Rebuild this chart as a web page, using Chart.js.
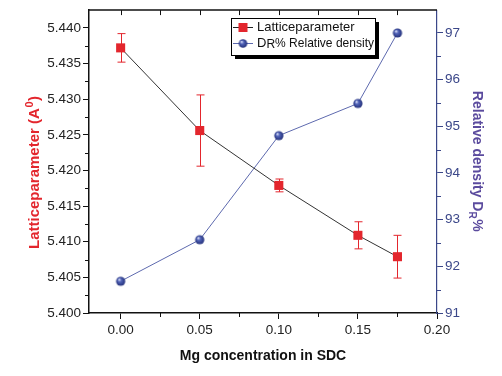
<!DOCTYPE html>
<html>
<head>
<meta charset="utf-8">
<script src="https://cdn.jsdelivr.net/npm/chart.js@4.4.0/dist/chart.umd.min.js"></script>
<style>
html, body { margin: 0; padding: 0; background: #fff; }
#wrap { width: 502px; height: 376px; }
</style>
</head>
<body>
<div id="wrap"><canvas id="chart"></canvas></div>
<script>
// values
const mgConc = [0.00, 0.05, 0.10, 0.15, 0.175];
const latticeParam = [5.4372, 5.4256, 5.4179, 5.4109, 5.4079];
const latticeErr = [0.0020, 0.0050, 0.0009, 0.0019, 0.0030];
const relDensity = [91.68, 92.57, 94.80, 95.49, 97.00];

const xTicks = [0.00, 0.05, 0.10, 0.15, 0.20];
const xMinor = [0.025, 0.075, 0.125, 0.175];
const leftTicks = [5.400, 5.405, 5.410, 5.415, 5.420, 5.425, 5.430, 5.435, 5.440];
const leftMinor = [5.4025, 5.4075, 5.4125, 5.4175, 5.4225, 5.4275, 5.4325, 5.4375];
const rightTicks = [91, 92, 93, 94, 95, 96, 97];
const rightMinor = [91.5, 92.5, 93.5, 94.5, 95.5, 96.5];

const RED = '#e3262d';
const BLUE_LINE = '#5d69ae';
const AXIS_BLUE = '#3b4789';
const PURPLE = '#5b4b9e';
const FONT = '"Liberation Sans", Arial, sans-serif';

function makeSphere(r) {
    const c = document.createElement('canvas');
    const s = Math.ceil(r * 2 + 2);
    c.width = c.height = s;
    const g = c.getContext('2d');
    const m = s / 2;
    const grad = g.createRadialGradient(m - r * 0.35, m - r * 0.4, 0.4, m, m, r);
    grad.addColorStop(0, '#d2d8f4');
    grad.addColorStop(0.35, '#5264b8');
    grad.addColorStop(1, '#23307a');
    g.fillStyle = grad;
    g.beginPath();
    g.arc(m, m, r, 0, Math.PI * 2);
    g.fill();
    return c;
}
const sphere = makeSphere(4.6);
const legendSphere = makeSphere(4.3);

// error bars under the markers
const errorBars = {
    id: 'errorBars',
    beforeDatasetsDraw(chart) {
        const ctx = chart.ctx;
        const x = chart.scales.x, y = chart.scales.yL;
        ctx.save();
        ctx.strokeStyle = RED;
        ctx.lineWidth = 1;
        mgConc.forEach((v, i) => {
            const px = Math.round(x.getPixelForValue(v)) + 0.5;
            const t = y.getPixelForValue(latticeParam[i] + latticeErr[i]);
            const b = y.getPixelForValue(latticeParam[i] - latticeErr[i]);
            ctx.beginPath();
            ctx.moveTo(px, t); ctx.lineTo(px, b);
            ctx.moveTo(px - 4, t); ctx.lineTo(px + 4, t);
            ctx.moveTo(px - 4, b); ctx.lineTo(px + 4, b);
            ctx.stroke();
        });
        ctx.restore();
    }
};

// frame, minor ticks, axis titles and legend
const decorations = {
    id: 'decorations',
    afterDraw(chart) {
        const ctx = chart.ctx;
        const a = chart.chartArea;
        const x = chart.scales.x, yL = chart.scales.yL, yR = chart.scales.yR;
        ctx.save();

        // top frame line with inward ticks
        ctx.strokeStyle = '#111';
        ctx.lineWidth = 1.5;
        ctx.beginPath();
        ctx.moveTo(a.left, a.top); ctx.lineTo(a.right, a.top);
        ctx.stroke();
        ctx.lineWidth = 1;
        ctx.beginPath();
        xTicks.concat(xMinor).forEach(v => {
            const px = Math.round(x.getPixelForValue(v)) + 0.5;
            if (px > a.right - 2) return;
            ctx.moveTo(px, a.top); ctx.lineTo(px, a.top + 5);
        });
        // bottom minor ticks
        xMinor.forEach(v => {
            const px = Math.round(x.getPixelForValue(v)) + 0.5;
            ctx.moveTo(px, a.bottom); ctx.lineTo(px, a.bottom + 4);
        });
        leftMinor.forEach(v => {
            const py = Math.round(yL.getPixelForValue(v)) + 0.5;
            ctx.moveTo(a.left, py); ctx.lineTo(a.left - 4, py);
        });
        ctx.stroke();
        ctx.strokeStyle = AXIS_BLUE;
        ctx.beginPath();
        rightMinor.forEach(v => {
            const py = Math.round(yR.getPixelForValue(v)) + 0.5;
            ctx.moveTo(a.right, py); ctx.lineTo(a.right + 4, py);
        });
        ctx.stroke();

        // x title
        ctx.fillStyle = '#111';
        ctx.font = 'bold 14px ' + FONT;
        ctx.textAlign = 'center';
        ctx.textBaseline = 'alphabetic';
        ctx.fillText('Mg concentration in SDC', (a.left + a.right) / 2, 360);

        // left title, reads upwards
        ctx.save();
        ctx.translate(39, 173);
        ctx.rotate(-Math.PI / 2);
        ctx.fillStyle = RED;
        const mainL = 'Latticeparameter (A';
        ctx.font = 'bold 15px ' + FONT;
        const w1 = ctx.measureText(mainL).width;
        ctx.font = 'bold 11px ' + FONT;
        const w2 = ctx.measureText('0').width;
        ctx.font = 'bold 15px ' + FONT;
        const w3 = ctx.measureText(')').width;
        let sx = -(w1 + w2 + w3) / 2;
        ctx.textAlign = 'left';
        ctx.fillText(mainL, sx, 0);
        ctx.font = 'bold 11px ' + FONT;
        ctx.fillText('0', sx + w1 + 0.5, -6);
        ctx.font = 'bold 15px ' + FONT;
        ctx.fillText(')', sx + w1 + w2 + 1, 0);
        ctx.restore();

        // right title, reads downwards
        ctx.save();
        ctx.translate(473, 161);
        ctx.rotate(Math.PI / 2);
        ctx.fillStyle = PURPLE;
        const mainR = 'Relative density D';
        ctx.font = 'bold 14px ' + FONT;
        const r1 = ctx.measureText(mainR).width;
        const r3 = ctx.measureText('%').width;
        ctx.font = 'bold 10px ' + FONT;
        const r2 = ctx.measureText('R').width;
        sx = -(r1 + r2 + r3) / 2;
        ctx.textAlign = 'left';
        ctx.font = 'bold 14px ' + FONT;
        ctx.fillText(mainR, sx, 0);
        ctx.font = 'bold 10px ' + FONT;
        ctx.fillText('R', sx + r1, 4);
        ctx.font = 'bold 14px ' + FONT;
        ctx.fillText('%', sx + r1 + r2 + 0.5, 0);
        ctx.restore();

        // legend box with shadow
        const lx = 231, ly = 18, lw = 144, lh = 37;
        ctx.fillStyle = '#000';
        ctx.fillRect(lx + 4, ly + 4, lw, lh);
        ctx.fillStyle = '#fff';
        ctx.fillRect(lx, ly, lw, lh);
        ctx.strokeStyle = '#000';
        ctx.lineWidth = 1;
        ctx.strokeRect(lx + 0.5, ly + 0.5, lw, lh);

        ctx.beginPath();
        ctx.strokeStyle = '#222';
        ctx.moveTo(233, 27.5); ctx.lineTo(253, 27.5);
        ctx.stroke();
        ctx.fillStyle = RED;
        ctx.fillRect(238.5, 23, 9, 9);
        ctx.beginPath();
        ctx.strokeStyle = BLUE_LINE;
        ctx.moveTo(233, 43.5); ctx.lineTo(253, 43.5);
        ctx.stroke();
        ctx.drawImage(legendSphere, 243 - legendSphere.width / 2, 43.5 - legendSphere.height / 2);

        ctx.fillStyle = '#111';
        ctx.textAlign = 'left';
        ctx.textBaseline = 'middle';
        ctx.font = '13px ' + FONT;
        ctx.fillText('Latticeparameter', 257, 27);
        ctx.fillText('D', 257, 43);
        const dw = ctx.measureText('D').width;
        ctx.font = '12px ' + FONT;
        ctx.fillText('R', 257 + dw, 45);
        const rw = ctx.measureText('R').width;
        ctx.font = '13px ' + FONT;
        const rest = '% Relative density';
        const restX = 257 + dw + rw;
        ctx.fillText(rest, restX, 43, 374 - restX);

        ctx.restore();
    }
};

const tickFont = { family: FONT, size: 13.5 };

new Chart(document.getElementById('chart'), {
    type: 'line',
    data: {
        datasets: [
            {
                label: 'Latticeparameter',
                data: mgConc.map((v, i) => ({ x: v, y: latticeParam[i] })),
                yAxisID: 'yL',
                borderColor: '#333',
                borderWidth: 1,
                pointStyle: 'rect',
                pointRadius: 6.4,
                pointBackgroundColor: RED,
                pointBorderColor: RED,
                pointBorderWidth: 0,
                tension: 0
            },
            {
                label: 'DR% Relative density',
                data: mgConc.map((v, i) => ({ x: v, y: relDensity[i] })),
                yAxisID: 'yR',
                borderColor: BLUE_LINE,
                borderWidth: 1,
                pointStyle: sphere,
                pointRadius: 5,
                tension: 0
            }
        ]
    },
    options: {
        responsive: true,
        maintainAspectRatio: false,
        animation: false,
        layout: { padding: { top: 9, left: 0, right: 0, bottom: 0 } },
        plugins: {
            legend: { display: false },
            tooltip: { enabled: false }
        },
        scales: {
            x: {
                type: 'linear',
                min: -0.02,
                max: 0.20,
                afterBuildTicks: s => { s.ticks = xTicks.map(v => ({ value: v })); },
                afterFit: s => { s.height = 63; },
                ticks: {
                    callback: v => v.toFixed(2),
                    font: tickFont,
                    color: '#222',
                    padding: 3,
                    maxRotation: 0,
                    autoSkip: false
                },
                grid: { drawOnChartArea: false, tickLength: 6, tickColor: '#111', tickWidth: 1 },
                border: { color: '#111', width: 1.5 }
            },
            yL: {
                type: 'linear',
                position: 'left',
                min: 5.400,
                max: 5.4425,
                afterBuildTicks: s => { s.ticks = leftTicks.map(v => ({ value: v })); },
                afterFit: s => { s.width = 89; },
                ticks: {
                    callback: v => v.toFixed(3),
                    font: tickFont,
                    color: '#222',
                    padding: 2,
                    autoSkip: false
                },
                grid: { drawOnChartArea: false, tickLength: 6, tickColor: '#111', tickWidth: 1 },
                border: { color: '#111', width: 1.5 }
            },
            yR: {
                type: 'linear',
                position: 'right',
                min: 91,
                max: 97.49,
                afterBuildTicks: s => { s.ticks = rightTicks.map(v => ({ value: v })); },
                afterFit: s => { s.width = 65; },
                ticks: {
                    callback: v => String(v),
                    font: tickFont,
                    color: AXIS_BLUE,
                    padding: 2,
                    autoSkip: false
                },
                grid: { drawOnChartArea: false, tickLength: 6, tickColor: AXIS_BLUE, tickWidth: 1 },
                border: { color: AXIS_BLUE, width: 1.2 }
            }
        }
    },
    plugins: [errorBars, decorations]
});
</script>
</body>
</html>
